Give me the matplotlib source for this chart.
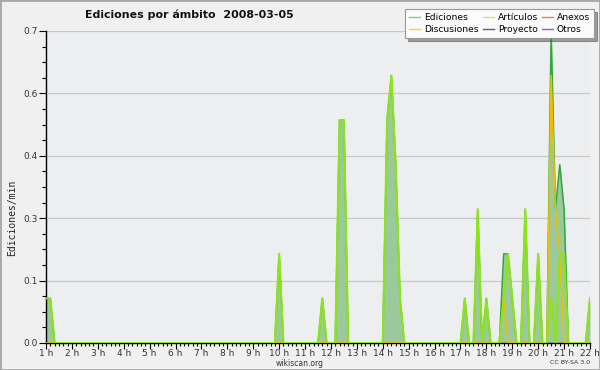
import numpy as np
import matplotlib
matplotlib.use("Agg")
import matplotlib.pyplot as plt
from matplotlib.lines import Line2D
from matplotlib.patches import Rectangle

# 10-minute bins, edits per minute (non-zero bins only)
ed_times = ["01:00", "01:10", "10:00", "11:40", "12:20", "12:30", "14:10", "14:20",
            "14:30", "14:40", "17:10", "17:40", "18:00", "18:40", "18:50", "19:00",
            "19:30", "20:00", "20:30", "20:40", "20:50", "21:00", "22:00"]
ed_values = [0.1, 0.1, 0.2, 0.1, 0.5, 0.5, 0.5, 0.6,
             0.4, 0.1, 0.1, 0.3, 0.1, 0.2, 0.2, 0.1,
             0.3, 0.2, 0.7, 0.3, 0.4, 0.3, 0.1]

art_times = ["01:00", "01:10", "10:00", "11:40", "12:20", "12:30", "14:10", "14:20",
             "14:30", "14:40", "17:10", "17:40", "18:00", "18:40", "18:50", "19:00",
             "19:30", "20:00", "20:30", "20:50", "21:00", "22:00"]
art_values = [0.1, 0.1, 0.2, 0.1, 0.5, 0.5, 0.5, 0.6,
              0.4, 0.1, 0.1, 0.3, 0.1, 0.1, 0.2, 0.1,
              0.3, 0.2, 0.1, 0.2, 0.2, 0.1]

disc_times = ["18:40", "20:30", "20:40", "20:50"]
disc_values = [0.1, 0.6, 0.3, 0.2]

hour_labels = [f"{h} h" for h in range(1, 23)]
legend_names = ["Ediciones", "Discusiones", "Artículos", "Proyecto", "Anexos", "Otros"]
legend_colors = ["#88cc88", "#f2d040", "#c8ee60", "#606060", "#f08050", "#9955ee"]


def to_hours(stamps):
    return [int(s[:2]) + int(s[3:]) / 60 for s in stamps]


# full 10-min grid from 1 h to 22 h
grid = np.arange(6 * 1, 6 * 22 + 1) / 6.0


def on_grid(stamps, values):
    series = np.zeros_like(grid)
    for h, v in zip(to_hours(stamps), values):
        series[np.argmin(np.abs(grid - h))] = v
    return series


ed = on_grid(ed_times, ed_values)
art = on_grid(art_times, art_values)
disc = on_grid(disc_times, disc_values)
zero = np.zeros_like(grid)

fig = plt.figure(figsize=(6, 3.7), dpi=100, facecolor="#f0f0f0")
ax = fig.add_axes([46 / 600, 1 - 343 / 370, 544 / 600, 312 / 370])
ax.set_facecolor("#edeef0")

ax.fill_between(grid, 0, ed, color="#9bc99b", lw=0, zorder=1)
ax.plot(grid, zero, color="#606060", lw=0.8, zorder=1)
ax.plot(grid, zero, color="#f08050", lw=0.8, zorder=1)
ax.plot(grid, zero, color="#9955ee", lw=0.8, zorder=1)
ax.plot(grid, ed, color="#2fa83a", lw=1.1, zorder=2)
ax.plot(grid, disc, color="#f0c000", lw=1.1, zorder=3)
ax.plot(grid, art, color="#8ee418", lw=1.5, zorder=4)

ax.set_xlim(1, 22)
ax.set_ylim(0, 0.7)

yt = np.linspace(0, 0.7, 6)
ax.set_yticks(yt)
ax.set_yticklabels([f"{v:.1f}" for v in yt])
ax.set_yticks(np.linspace(0, 0.7, 21), minor=True)
ax.set_xticks(np.arange(1, 23))
ax.set_xticklabels(hour_labels)
ax.set_xticks(np.arange(1, 22.01, 1 / 6), minor=True)

for v in yt[1:]:
    ax.axhline(v, color="#c8c8c8", lw=0.9, zorder=0.5)

for s in ["top", "right"]:
    ax.spines[s].set_visible(False)
for s in ["left", "bottom"]:
    ax.spines[s].set_color("black")
    ax.spines[s].set_linewidth(1.0)

ax.tick_params(axis="y", which="major", direction="out", length=5, width=0.8,
               labelsize=6.5, colors="black", labelcolor="#333333", pad=1)
ax.tick_params(axis="y", which="minor", direction="out", length=3, width=0.8)
ax.tick_params(axis="x", which="major", direction="out", length=4, width=0.8,
               labelsize=6.5, colors="black", labelcolor="#333333", pad=0)
ax.tick_params(axis="x", which="minor", direction="out", length=2.5, width=0.8)

fig.text(12 / 600, 1 - 218 / 370, "Ediciones/min", rotation=90, ha="center",
         va="center", fontsize=7, family="DejaVu Sans Mono", color="#222222")
fig.text(85 / 600, 1 - 15 / 370, "Ediciones por ámbito  2008-03-05", ha="left",
         va="center", fontsize=7.9, fontweight="bold", color="#111111")
fig.text(300 / 600, 1 - 363 / 370, "wikiscan.org", ha="center", va="center",
         fontsize=5.5, color="#333333")
fig.text(590 / 600, 1 - 363 / 370, "CC BY-SA 3.0", ha="right", va="center",
         fontsize=4.5, color="#333333")

handles = [Line2D([], [], color=c, lw=1) for c in legend_colors]
leg = fig.legend(handles, legend_names, loc="upper right", ncol=3,
                 bbox_to_anchor=(594 / 600, 1 - 9 / 370), fontsize=6.6,
                 frameon=True, fancybox=False, shadow=True, handlelength=1.2,
                 handletextpad=0.45, columnspacing=0.4, labelspacing=0.3,
                 borderpad=0.45, borderaxespad=0)
leg.get_frame().set_edgecolor("#999999")
leg.get_frame().set_facecolor("#fbfbfb")
leg.get_frame().set_linewidth(0.8)

fig.patches.append(Rectangle((0, 0), 1, 1, transform=fig.transFigure, fill=False,
                             edgecolor="#a8a8a8", lw=2))

fig.savefig("out.png", dpi=100, facecolor=fig.get_facecolor())
